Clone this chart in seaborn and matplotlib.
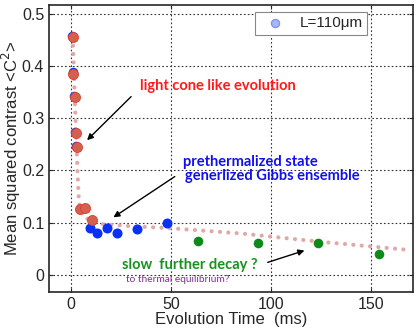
import matplotlib
matplotlib.use("Agg")
import matplotlib.pyplot as plt
import seaborn as sns
import pandas as pd

# --- data ---
# early points (blue underneath, red on top)
t_early = [0.8, 1.2, 1.8, 2.5, 2.8, 4.5, 6.8, 10.3]
c_early = [0.455, 0.385, 0.340, 0.271, 0.244, 0.125, 0.128, 0.104]

# prethermalized plateau (blue)
t_plateau = [9.5, 13.2, 17.8, 22.8, 32.8, 47.8]
c_plateau = [0.089, 0.079, 0.089, 0.079, 0.087, 0.0995]

# late points (green)
t_late = [63.5, 93.3, 123.5, 153.8]
c_late = [0.064, 0.061, 0.060, 0.040]

# dotted guide curve
t_guide = [0.8, 1.5, 2.0, 2.7, 3.3, 3.8, 4.3, 6.0, 9.0, 15, 30, 50, 85, 125, 170]
c_guide = [0.455, 0.38, 0.32, 0.25, 0.19, 0.15, 0.13, 0.115, 0.104, 0.097, 0.093, 0.089, 0.079, 0.063, 0.047]

x_ticks = [0, 50, 100, 150]
y_ticks = [0, 0.1, 0.2, 0.3, 0.4, 0.5]
y_ticklabels = ["0", "0.1", "0.2", "0.3", "0.4", "0.5"]

sns.set_style("ticks")
plt.rcParams['font.family'] = ['Liberation Sans', 'DejaVu Sans']

fig = plt.figure(figsize=(4.16, 3.28), dpi=100)
ax = fig.add_axes([0.118, 0.110, 0.875, 0.875])

ax.plot(t_guide, c_guide, color=(0.88, 0.66, 0.66), lw=3.0,
        linestyle=(0, (0.01, 2.0)), dash_capstyle='round', zorder=2)

early_df = pd.DataFrame({"t": t_early, "c": c_early})
blue_under = pd.DataFrame({"t": [v - 0.4 for v in t_early[:5]],
                           "c": [v + 0.003 for v in c_early[:5]]})
sns.scatterplot(data=blue_under, x="t", y="c", ax=ax, color="#1a3cf0",
                s=48, linewidth=0, zorder=3, legend=False)
sns.scatterplot(data=pd.DataFrame({"t": t_plateau, "c": c_plateau}), x="t", y="c",
                ax=ax, color="#0a2ff5", s=52, linewidth=0, zorder=3, legend=False)
sns.scatterplot(data=early_df, x="t", y="c", ax=ax, color="#d2614e",
                edgecolor="#e03a2a", linewidth=0.6, s=52, zorder=4, legend=False)
sns.scatterplot(data=pd.DataFrame({"t": t_late, "c": c_late}), x="t", y="c",
                ax=ax, color="#0e8a1a", s=48, linewidth=0, zorder=3, legend=False)

# legend entry
ax.scatter([], [], color="#a9b8f5", edgecolor="#7f94ee", s=34, label="L=110\u03bcm")
leg = ax.legend(loc="upper right", bbox_to_anchor=(0.874, 0.976), fancybox=False,
                edgecolor="#888888", fontsize=11, handletextpad=0.6,
                borderpad=0.3, borderaxespad=0, framealpha=1)
leg.get_frame().set_linewidth(0.8)

ax.set_xlim(-11, 171)
ax.set_ylim(-0.033, 0.517)
ax.set_xticks(x_ticks)
ax.set_yticks(y_ticks)
ax.set_yticklabels(y_ticklabels)
ax.tick_params(direction="in", top=True, right=True, labelsize=11.5, length=3, pad=3.5)
ax.grid(True, linestyle=(0, (1.5, 2)), color="#333333", lw=0.8)
for s in ax.spines.values():
    s.set_linewidth(1.2)
ax.set_xlabel("Evolution Time  (ms)", fontsize=12, labelpad=0)
ax.set_ylabel("Mean squared contrast <C$^2$>", fontsize=12)
ax.yaxis.set_label_coords(-0.072, 0.5)

note_font = ['Lato', 'DejaVu Sans']
ax.text(34.5, 0.362, "light cone like evolution", color="#ff1a1a", fontsize=10.5,
        fontweight="bold", family=note_font, va="center")
ax.text(56, 0.216, "prethermalized state", color="#1010ee", fontsize=10.5,
        fontweight="bold", family=note_font, va="center")
ax.text(57, 0.189, "generlized Gibbs ensemble", color="#1010ee", fontsize=10.5,
        fontweight="bold", family=note_font, va="center")
ax.text(25.5, 0.018, "slow  further decay ?", color="#16921e", fontsize=10.5,
        fontweight="bold", family=note_font, va="center")
ax.text(27.5, -0.009, "to thermal equilibrium?", color="#8a2a9a", fontsize=7.3,
        family=note_font, va="center")

arrow = dict(arrowstyle="-|>", color="black", lw=1.0, mutation_scale=9)
ax.annotate("", xy=(7, 0.254), xytext=(31, 0.345), arrowprops=arrow)
ax.annotate("", xy=(20, 0.107), xytext=(53, 0.191), arrowprops=arrow)
ax.annotate("", xy=(118, 0.048), xytext=(97, 0.022), arrowprops=arrow)

fig.savefig("out.png", dpi=100)
